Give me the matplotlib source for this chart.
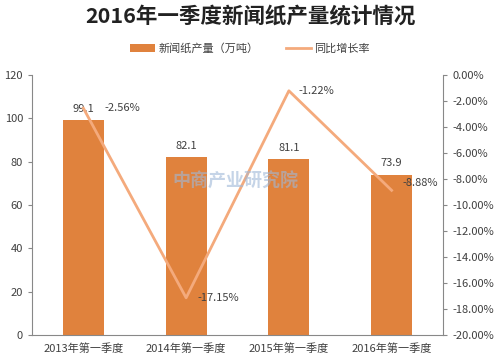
import matplotlib.pyplot as plt
import numpy as np
from matplotlib.ticker import FuncFormatter

plt.rcParams['font.family'] = ['Noto Sans CJK SC', 'DejaVu Sans']

categories = ["2013年第一季度", "2014年第一季度", "2015年第一季度", "2016年第一季度"]
output = [99.1, 82.1, 81.1, 73.9]
growth = [-2.56, -17.15, -1.22, -8.88]

bar_color = "#E0823D"
line_color = "#F4AA7C"
text_color = "#404040"

fig = plt.figure(figsize=(5, 3.62), dpi=100)
ax = fig.add_axes([0.064, 0.075, 0.822, 0.718])
ax2 = ax.twinx()

x = np.arange(len(categories))
bars = ax.bar(x, output, width=0.4, color=bar_color, label="新闻纸产量（万吨）", zorder=2)
ax.set_xlim(-0.5, len(categories) - 0.5)
ax.set_ylim(0, 120)
ax.set_yticks(np.arange(0, 121, 20))
ax.set_xticks(x)
ax.set_xticklabels(categories)

for xi, v in zip(x, output):
    ax.text(xi, v + 3, f"{v:.1f}", ha="center", va="bottom", fontsize=8, color=text_color)

line, = ax2.plot(x, growth, color=line_color, lw=2, label="同比增长率", zorder=3)
ax2.set_ylim(-20, 0)
ax2.set_yticks(np.arange(-20, 0.1, 2))
ax2.yaxis.set_major_formatter(FuncFormatter(lambda v, p: f"{v:.2f}%"))

# label offsets in points, as in the reference
label_offsets = [(15, 0), (8, 0), (7, 0), (8, 5)]
for xi, v, off in zip(x, growth, label_offsets):
    ax2.annotate(f"{v:.2f}%", (xi, v), xytext=off, textcoords="offset points",
                 ha="left", va="center", fontsize=8, color=text_color)

for a in (ax, ax2):
    a.spines["top"].set_visible(False)
    for s in ("left", "right", "bottom"):
        a.spines[s].set_color("#888888")
    a.tick_params(colors="#888888", labelcolor=text_color, labelsize=8, length=3)
ax.spines["right"].set_visible(False)
ax2.spines["left"].set_visible(False)
ax2.spines["bottom"].set_visible(False)
ax.tick_params(axis="x", length=0, pad=6)

fig.text(0.5, 0.955, "2016年一季度新闻纸产量统计情况", ha="center", va="center",
         fontsize=15.5, fontweight="bold", color="#222222")
fig.legend(handles=[bars, line], loc="center", bbox_to_anchor=(0.5, 0.865), ncol=2,
           frameon=False, fontsize=8, handlelength=2.2, handletextpad=0.3, columnspacing=2.5,
           labelcolor=text_color)

fig.text(0.47, 0.5, "中商产业研究院", ha="center", va="center", fontsize=13,
         color="#9FB8D8", alpha=0.6, fontweight="bold")

plt.savefig("out.png", dpi=100)
